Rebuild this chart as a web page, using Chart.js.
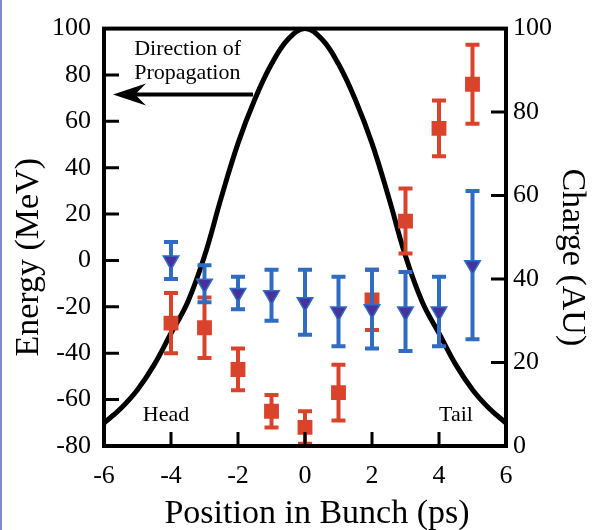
<!DOCTYPE html>
<html>
<head>
<meta charset="utf-8">
<title>Energy and charge along the bunch</title>
<script src="https://cdn.jsdelivr.net/npm/chart.js@4.4.1/dist/chart.umd.min.js"></script>
<style>
  html, body { margin: 0; padding: 0; background: #fff; }
  #wrap { position: relative; width: 592px; height: 530px; }
  #edge { position: absolute; left: 0; top: 0; width: 2px; height: 530px; background: #8188d6; }
</style>
</head>
<body>
<div id="wrap">
  <canvas id="chart" width="592" height="530"></canvas>
  <div id="edge"></div>
</div>
<script>
// ===== Data =====
const curvePos = [-6, -5.5, -5, -4.5, -4, -3.5, -3, -2.5, -2, -1.5, -1, -0.5, 0, 0.5, 1, 1.5, 2, 2.5, 3, 3.5, 4, 4.5, 5, 5.5, 6];
const charge   = [5.5, 9, 13.5, 19.5, 27, 34.5, 45.5, 59.5, 72.5, 83, 91.5, 97.5, 100,
                  97.5, 91.5, 83, 72.5, 59.5, 45.5, 34.5, 27, 19.5, 13.5, 9, 5.5];

const positions = [-4, -3, -2, -1, 0, 1, 2, 3, 4, 5];
// red squares
const energyA    = [-27, -29, -47, -65, -72, -57, -17, 17, 57, 76];
const energyAErr = [13, 13, 9, 7, 7, 12, 13, 14, 12, 17];
// blue triangles
const energyB    = [0, -10, -14, -15, -18, -22, -21, -22, -22, -2];
const energyBErr = [8, 8, 7, 11, 14, 15, 17, 17, 15, 32];

const xTicks = [-6, -4, -2, 0, 2, 4, 6];
const energyTicks = [-80, -60, -40, -20, 0, 20, 40, 60, 80, 100];
const chargeTicks = [0, 20, 40, 60, 80, 100];

const SERIF = "'Liberation Serif', 'Times New Roman', serif";
const RED = '#d9432b';
const BLUE = '#2f6cc2';
const PURPLE = '#47329c';

// ===== Error bars, frame, inward ticks, notes, titles =====
const errBars = {
    id: 'errBars',
    beforeDatasetDraw(chart, args) {
        const ds = chart.data.datasets[args.index];
        if (!ds.errors) return;
        const { ctx, scales: { x, y } } = chart;
        ctx.save();
        ctx.strokeStyle = ds.barColor;
        ctx.lineWidth = 4;
        ds.data.forEach((p, i) => {
            const e = ds.errors[i];
            const px = x.getPixelForValue(p.x);
            const top = y.getPixelForValue(p.y + e);
            const bot = y.getPixelForValue(p.y - e);
            ctx.beginPath();
            ctx.moveTo(px, top); ctx.lineTo(px, bot);
            ctx.moveTo(px - 7, top); ctx.lineTo(px + 7, top);
            ctx.moveTo(px - 7, bot); ctx.lineTo(px + 7, bot);
            ctx.stroke();
        });
        ctx.restore();
    }
};

const frame = {
    id: 'frame',
    afterDatasetsDraw(chart) {
        const { ctx, chartArea: a, scales: { x, y, y2 } } = chart;
        ctx.save();
        ctx.strokeStyle = '#000';
        ctx.lineWidth = 3;
        ctx.beginPath();
        energyTicks.slice(1, -1).forEach(v => {
            const py = y.getPixelForValue(v);
            ctx.moveTo(a.left, py); ctx.lineTo(a.left + 15, py);
        });
        chargeTicks.slice(1, -1).forEach(v => {
            const py = y2.getPixelForValue(v);
            ctx.moveTo(a.right, py); ctx.lineTo(a.right - 15, py);
        });
        xTicks.slice(1, -1).forEach(v => {
            const px = x.getPixelForValue(v);
            ctx.moveTo(px, a.bottom); ctx.lineTo(px, a.bottom - 14);
        });
        ctx.stroke();

        ctx.lineWidth = 4;
        ctx.strokeRect(a.left, a.top, a.right - a.left, a.bottom - a.top);

        // notes
        ctx.fillStyle = '#000';
        ctx.font = '22px ' + SERIF;
        ctx.textBaseline = 'alphabetic';
        ctx.textAlign = 'left';
        ctx.fillText('Direction of', x.getPixelForValue(-5.1), y.getPixelForValue(88.5));
        ctx.fillText('Propagation', x.getPixelForValue(-5.1), y.getPixelForValue(78.3));
        ctx.fillText('Head', x.getPixelForValue(-4.84), y.getPixelForValue(-69.4));
        ctx.fillText('Tail', x.getPixelForValue(4.0), y.getPixelForValue(-69.4));

        // arrow
        const ay = y.getPixelForValue(71.6);
        const tip = x.getPixelForValue(-5.73);
        ctx.beginPath();
        ctx.moveTo(x.getPixelForValue(-1.55), ay);
        ctx.lineTo(tip + 18, ay);
        ctx.stroke();
        ctx.beginPath();
        ctx.moveTo(tip, ay);
        ctx.lineTo(tip + 33, ay - 11);
        ctx.lineTo(tip + 22, ay);
        ctx.lineTo(tip + 33, ay + 11);
        ctx.closePath();
        ctx.fill();

        // axis titles
        const midY = (a.top + a.bottom) / 2 + 20;
        ctx.font = '34px ' + SERIF;
        ctx.textAlign = 'center';
        ctx.fillText('Position in Bunch (ps)', (a.left + a.right) / 2 + 12, a.bottom + 77);

        ctx.save();
        ctx.translate(a.left - 66, midY);
        ctx.rotate(-Math.PI / 2);
        ctx.fillText('Energy (MeV)', 0, 0);
        ctx.restore();

        ctx.save();
        ctx.translate(a.right + 57, midY);
        ctx.rotate(Math.PI / 2);
        ctx.fillText('Charge (AU)', 0, 0);
        ctx.restore();

        ctx.restore();
    }
};

const tickFont = { family: SERIF, size: 26 };

new Chart(document.getElementById('chart'), {
    type: 'scatter',
    data: {
        datasets: [
            {
                type: 'line',
                label: 'Charge',
                data: curvePos.map((p, i) => ({ x: p, y: charge[i] })),
                yAxisID: 'y2',
                borderColor: '#000',
                borderWidth: 5,
                pointRadius: 0,
                tension: 0.4,
                order: 3
            },
            {
                label: 'Energy (squares)',
                data: positions.map((p, i) => ({ x: p, y: energyA[i] })),
                errors: energyAErr,
                barColor: RED,
                yAxisID: 'y',
                pointStyle: 'rect',
                pointRadius: 10.5,
                backgroundColor: RED,
                borderColor: RED,
                borderWidth: 0,
                order: 2
            },
            {
                label: 'Energy (triangles)',
                data: positions.map((p, i) => ({ x: p, y: energyB[i] })),
                errors: energyBErr,
                barColor: BLUE,
                yAxisID: 'y',
                pointStyle: 'triangle',
                rotation: 180,
                pointRadius: 9,
                backgroundColor: PURPLE,
                borderColor: BLUE,
                borderWidth: 1.5,
                order: 1
            }
        ]
    },
    options: {
        responsive: false,
        animation: false,
        layout: { padding: { top: 22, left: 0, right: 0, bottom: 0 } },
        plugins: {
            legend: { display: false },
            tooltip: { enabled: false }
        },
        scales: {
            x: {
                type: 'linear',
                min: -6, max: 6,
                afterBuildTicks: s => { s.ticks = xTicks.map(v => ({ value: v })); },
                ticks: { color: '#000', font: tickFont, padding: 15 },
                grid: { drawOnChartArea: false, drawTicks: false },
                border: { display: false },
                afterFit: s => { s.height = 84; }
            },
            y: {
                position: 'left',
                min: -80, max: 100,
                afterBuildTicks: s => { s.ticks = energyTicks.map(v => ({ value: v })); },
                ticks: { color: '#000', font: tickFont, padding: 13 },
                grid: { drawOnChartArea: false, drawTicks: false },
                border: { display: false },
                afterFit: s => { s.width = 104; }
            },
            y2: {
                position: 'right',
                min: 0, max: 100,
                afterBuildTicks: s => { s.ticks = chargeTicks.map(v => ({ value: v })); },
                ticks: { color: '#000', font: tickFont, padding: 7 },
                grid: { drawOnChartArea: false, drawTicks: false },
                border: { display: false },
                afterFit: s => { s.width = 86; }
            }
        }
    },
    plugins: [errBars, frame]
});
</script>
</body>
</html>
